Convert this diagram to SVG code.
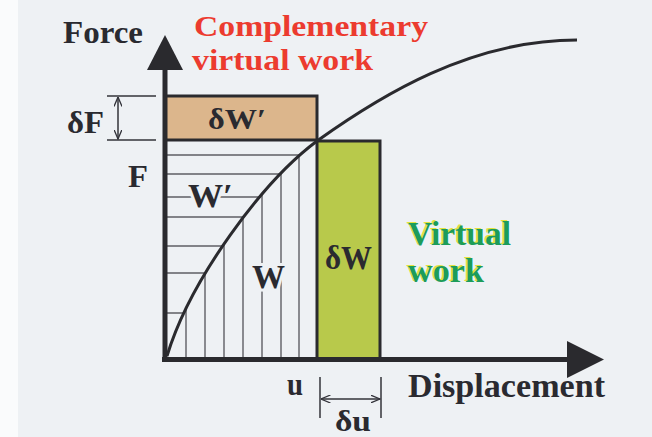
<svg xmlns="http://www.w3.org/2000/svg" width="652" height="437" viewBox="0 0 652 437">
  <style>
    text { font-family: "Liberation Serif", serif; font-weight: 700; }
    .t { fill: #2a2a30; }
    .red { fill: #ec3b2f; }
    .grn { fill: #1c9c5a; }
    .ylw { fill: #e4e23c; }
    .halo { stroke: #eef1f4; stroke-width: 6; paint-order: stroke; stroke-linejoin: round; }
    .hatch { stroke: #5e5e64; stroke-width: 1.4; fill: none; }
    .dim { stroke: #33333a; stroke-width: 1.5; fill: none; }
    .axis { stroke: #2a2a2e; stroke-width: 5; fill: none; }
    .box { stroke: #2a2a2e; stroke-width: 3; }
  </style>
  <defs>
    <marker id="open" viewBox="0 0 10 8" refX="9.5" refY="4" markerWidth="10" markerHeight="8" markerUnits="userSpaceOnUse" orient="auto-start-reverse">
      <path d="M0,0 L9.5,4 L0,8" fill="none" stroke="#33333a" stroke-width="1.3"/>
    </marker>
    <clipPath id="above">
      <path d="M167,356 C190,280 262,182 317,141 L165,141 Z"/>
    </clipPath>
    <clipPath id="below">
      <path d="M167,356 C190,280 262,182 317,141 L317,360 L165,360 Z"/>
    </clipPath>
  </defs>

  <!-- background -->
  <rect x="0" y="0" width="652" height="437" fill="#eef1f4"/>
  <rect x="0" y="0" width="18" height="437" fill="#fafbfc"/>

  <!-- complementary work box -->
  <g id="dWprime-box">
    <rect class="box" x="165" y="96" width="152" height="44" fill="#dcb68c"/>
    <text class="t" x="208" y="129" font-size="29" textLength="58" lengthAdjust="spacingAndGlyphs">δW′</text>
  </g>

  <!-- virtual work box -->
  <g id="dW-box">
    <rect class="box" x="317" y="141" width="63" height="218" fill="#b8c94b"/>
    <text class="t" x="325" y="269" font-size="33" textLength="47" lengthAdjust="spacingAndGlyphs">δW</text>
  </g>

  <!-- hatched areas -->
  <g id="Wprime-area">
    <g clip-path="url(#above)" class="hatch">
      <line x1="165" y1="155" x2="317" y2="155"/>
      <line x1="165" y1="174" x2="317" y2="174"/>
      <line x1="165" y1="197" x2="317" y2="197"/>
      <line x1="165" y1="217" x2="317" y2="217"/>
      <line x1="165" y1="246" x2="317" y2="246"/>
      <line x1="165" y1="273" x2="317" y2="273"/>
      <line x1="165" y1="313" x2="317" y2="313"/>
    </g>
    <text class="t halo" x="188" y="207" font-size="33" textLength="45" lengthAdjust="spacingAndGlyphs">W′</text>
  </g>
  <g id="W-area">
    <g clip-path="url(#below)" class="hatch">
      <line x1="186" y1="141" x2="186" y2="360"/>
      <line x1="205" y1="141" x2="205" y2="360"/>
      <line x1="224" y1="141" x2="224" y2="360"/>
      <line x1="243" y1="141" x2="243" y2="360"/>
      <line x1="262" y1="141" x2="262" y2="360"/>
      <line x1="281" y1="141" x2="281" y2="360"/>
      <line x1="299" y1="141" x2="299" y2="360"/>
    </g>
    <text class="t halo" x="252" y="288" font-size="33" textLength="33" lengthAdjust="spacingAndGlyphs">W</text>
  </g>

  <!-- connectors: axes, curve, dimensions -->
  <g id="connectors">
    <line class="axis" x1="165" y1="66" x2="165" y2="362"/>
    <polygon points="165,35 147,70 183,70" fill="#2a2a2e"/>
    <line class="axis" x1="162" y1="359.5" x2="570" y2="359.5"/>
    <polygon points="604,359.5 567,341 567,378" fill="#2a2a2e"/>
    <path d="M167,356 C190,280 262,182 317,141 C380,96 470,40 577,40" fill="none" stroke="#2a2a2e" stroke-width="3"/>
    <line class="dim" x1="107" y1="96" x2="156" y2="96"/>
    <line class="dim" x1="107" y1="140" x2="156" y2="140"/>
    <line class="dim" x1="118" y1="97" x2="118" y2="139" marker-start="url(#open)" marker-end="url(#open)"/>
    <line class="dim" x1="320" y1="377" x2="320" y2="418"/>
    <line class="dim" x1="381" y1="377" x2="381" y2="418"/>
    <line class="dim" x1="321" y1="399" x2="380" y2="399" marker-start="url(#open)" marker-end="url(#open)"/>
  </g>

  <!-- labels -->
  <g id="labels">
    <text class="t" x="63" y="43" font-size="31" textLength="80" lengthAdjust="spacingAndGlyphs">Force</text>
    <text class="red" x="194" y="36" font-size="30" textLength="234" lengthAdjust="spacingAndGlyphs">Complementary</text>
    <text class="red" x="192" y="70" font-size="30" textLength="181" lengthAdjust="spacingAndGlyphs">virtual work</text>
    <text class="t" x="67" y="133" font-size="31" textLength="37" lengthAdjust="spacingAndGlyphs">δF</text>
    <text class="t" x="128" y="187" font-size="31" textLength="20" lengthAdjust="spacingAndGlyphs">F</text>
    <text class="ylw" x="406.5" y="243.5" font-size="33" textLength="103" lengthAdjust="spacingAndGlyphs">Virtual</text>
    <text class="grn" x="408" y="245" font-size="33" textLength="103" lengthAdjust="spacingAndGlyphs">Virtual</text>
    <text class="ylw" x="406.5" y="280.5" font-size="33" textLength="76" lengthAdjust="spacingAndGlyphs">work</text>
    <text class="grn" x="408" y="282" font-size="33" textLength="76" lengthAdjust="spacingAndGlyphs">work</text>
    <text class="t" x="408" y="397" font-size="33" textLength="197" lengthAdjust="spacingAndGlyphs">Displacement</text>
    <text class="t" x="287" y="395" font-size="31" textLength="16" lengthAdjust="spacingAndGlyphs">u</text>
    <text class="t" x="335" y="431" font-size="29" textLength="36" lengthAdjust="spacingAndGlyphs">δu</text>
  </g>
</svg>
